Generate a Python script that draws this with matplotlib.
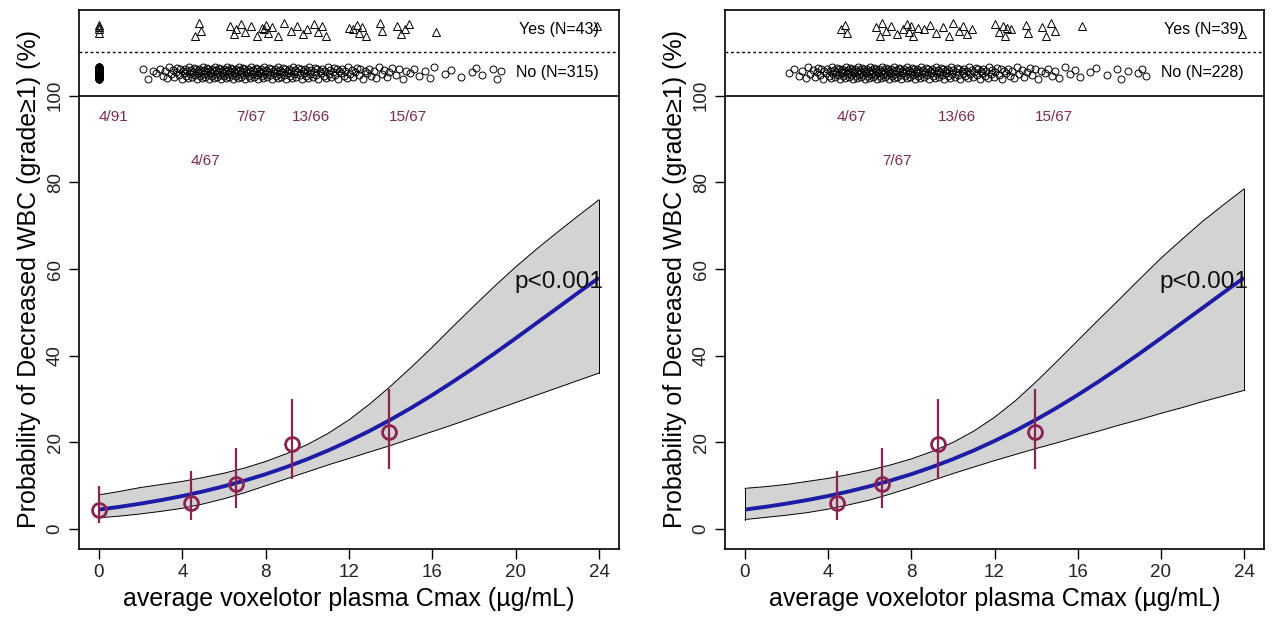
import numpy as np
import matplotlib
matplotlib.use('Agg')
import matplotlib.pyplot as plt

plt.rcParams['font.family'] = ['Liberation Sans', 'DejaVu Sans']

# ---------------- data ----------------
x_ticks = [0, 4, 8, 12, 16, 20, 24]
y_ticks = [0, 20, 40, 60, 80, 100]

curve_x = list(range(0, 25))
left_fit = [4.50, 5.14, 5.88, 6.70, 7.63, 8.69, 9.88, 11.20, 12.67, 14.32, 16.14, 18.14,
            20.33, 22.69, 25.26, 28.01, 30.94, 34.03, 37.24, 40.59, 44.03, 47.53, 51.02, 54.54, 58.01]
left_upper = [7.9, 8.7, 9.6, 10.3, 11.0, 11.9, 12.9, 14.1, 15.6, 17.4, 19.5, 22.1, 25.2, 28.9,
              33.0, 37.4, 42.0, 46.8, 51.5, 56.1, 60.5, 64.6, 68.5, 72.3, 76.0]
left_lower = [2.6, 3.0, 3.5, 4.1, 4.8, 5.8, 7.0, 8.4, 10.0, 11.6, 13.2, 14.8, 16.3, 17.8,
              19.3, 20.9, 22.5, 24.1, 25.8, 27.5, 29.2, 30.9, 32.6, 34.3, 36.0]

right_fit = [4.50, 5.14, 5.88, 6.70, 7.63, 8.69, 9.88, 11.20, 12.67, 14.32, 16.14, 18.14,
             20.33, 22.69, 25.26, 28.01, 30.94, 34.03, 37.24, 40.59, 44.03, 47.53, 51.02, 54.54, 58.01]
right_upper = [9.4, 9.8, 10.3, 11.0, 11.7, 12.6, 13.6, 14.8, 16.2, 17.9, 20.0, 22.6, 25.8, 29.6,
               34.0, 38.7, 43.5, 48.3, 53.0, 57.8, 62.5, 66.8, 71.0, 74.8, 78.5]
right_lower = [2.2, 2.7, 3.2, 3.8, 4.6, 5.6, 6.7, 8.1, 9.6, 11.2, 12.8, 14.3, 15.8, 17.2,
               18.6, 19.9, 21.3, 22.6, 24.0, 25.3, 26.7, 28.0, 29.4, 30.7, 32.0]

left_obs_x = [0.0, 4.41, 6.57, 9.25, 13.93]
left_obs_y = [4.4, 6.0, 10.4, 19.6, 22.3]
left_obs_lo = [1.4, 2.2, 4.9, 11.5, 13.8]
left_obs_hi = [10.0, 13.4, 18.8, 30.0, 32.4]
left_counts = ['4/91', '4/67', '7/67', '13/66', '15/67']
left_count_y = [95, 85, 95, 95, 95]

right_obs_x = [4.41, 6.6, 9.3, 13.95]
right_obs_y = [6.0, 10.4, 19.6, 22.3]
right_obs_lo = [2.2, 4.9, 11.5, 13.8]
right_obs_hi = [13.4, 18.8, 30.0, 32.4]
right_counts = ['4/67', '7/67', '13/66', '15/67']
right_count_y = [95, 85, 95, 95]

p_text = 'p<0.001'

# event strip data
placebo_yes_n = 4
placebo_no_n = 87
yes_drug_x = [4.6, 4.8, 4.9, 6.3, 6.5, 6.6, 6.8, 7.0, 7.3, 7.6, 7.8, 7.9, 8.0, 8.1, 8.3, 8.6,
              8.9, 9.2, 9.5, 9.8, 10.0, 10.3, 10.5, 10.7, 10.9, 12.0, 12.2, 12.4, 12.5, 12.6,
              12.8, 13.5, 13.6, 14.3, 14.5, 14.7, 14.9, 16.2, 23.9]
no_drug_bins = [2.25, 2.75, 3.25, 3.75, 4.25, 4.75, 5.25, 5.75, 6.25, 6.75, 7.25, 7.75, 8.25, 8.75,
                9.25, 9.75, 10.25, 10.75, 11.25, 11.75, 12.25, 12.75, 13.25, 13.75, 14.25, 14.75,
                15.25, 15.75]
no_drug_counts = [2, 3, 5, 7, 10, 12, 13, 13, 13, 13, 12, 12, 11, 11, 10, 10, 9, 8, 8, 7, 6, 5,
                  4, 4, 3, 3, 2, 2]
no_drug_outliers = [16.1, 16.6, 16.9, 17.4, 17.9, 18.1, 18.4, 18.9, 19.1, 19.3]

yes_label_left = 'Yes (N=43)'
no_label_left = 'No (N=315)'
yes_label_right = 'Yes (N=39)'
no_label_right = 'No (N=228)'

xlabel = 'average voxelotor plasma Cmax (\u00b5g/mL)'
ylabel = 'Probability of Decreased WBC (grade\u22651) (%)'

# ---------------- style ----------------
MAROON = '#8B2252'
COUNT_COL = '#7d2b4b'
BLUE = '#1c1ca6'
BAND = '#d3d3d3'
JIT = np.array([0.0, 1.1, -0.9, 0.5, -1.4, 1.5, -0.3, 0.8, -1.1, 0.2, 1.3, -0.6, 0.9, -1.5, 0.4])


def jitter(n, scale=1.0):
    return np.resize(JIT, n) * scale


def spread_bins(centres, counts, width=0.5):
    xs = []
    for c, n in zip(centres, counts):
        for i in range(n):
            xs.append(c - width / 2 + (i + 0.5) / n * width)
    return xs


no_drug_x = spread_bins(no_drug_bins, no_drug_counts) + no_drug_outliers

fig = plt.figure(figsize=(12.75, 6.33), dpi=100)
W, H = 1275, 633
positions = [(79, 10, 619, 549), (725, 10, 1264, 549)]

panels = [
    dict(fit=left_fit, up=left_upper, lo=left_lower, ox=left_obs_x, oy=left_obs_y,
         olo=left_obs_lo, ohi=left_obs_hi, counts=left_counts, cy=left_count_y,
         yes_x=[0.0] * placebo_yes_n + yes_drug_x, no_x=[0.0] * placebo_no_n + no_drug_x,
         yes_lab=yes_label_left, no_lab=no_label_left),
    dict(fit=right_fit, up=right_upper, lo=right_lower, ox=right_obs_x, oy=right_obs_y,
         olo=right_obs_lo, ohi=right_obs_hi, counts=right_counts, cy=right_count_y,
         yes_x=yes_drug_x, no_x=no_drug_x,
         yes_lab=yes_label_right, no_lab=no_label_right),
]

for (l, t, r, b), P in zip(positions, panels):
    ax = fig.add_axes([l / W, 1 - b / H, (r - l) / W, (b - t) / H])
    ax.set_xlim(-0.96, 24.96)
    ax.set_ylim(-4.6, 119.8)

    # confidence band
    ax.fill_between(curve_x, P['lo'], P['up'], facecolor=BAND, edgecolor='none', zorder=1)
    ax.plot(curve_x, P['up'], color='black', lw=0.7, zorder=2)
    ax.plot(curve_x, P['lo'], color='black', lw=0.7, zorder=2)
    ax.plot([curve_x[0], curve_x[0]], [P['lo'][0], P['up'][0]], color='black', lw=0.7, zorder=2)
    ax.plot([curve_x[-1], curve_x[-1]], [P['lo'][-1], P['up'][-1]], color='black', lw=0.7, zorder=2)

    # fitted curve
    ax.plot(curve_x, P['fit'], color=BLUE, lw=2.8, zorder=3, solid_capstyle='butt')

    # observed proportions
    ax.vlines(P['ox'], P['olo'], P['ohi'], color=MAROON, lw=1.6, zorder=4)
    ax.plot(P['ox'], P['oy'], 'o', ms=10, mfc='none', mec=MAROON, mew=2.0, zorder=5)
    for x, y, s in zip(P['ox'], P['cy'], P['counts']):
        ax.text(x, y, s, color=COUNT_COL, fontsize=11, ha='left', va='center')

    ax.text(19.95, 57.0, p_text, fontsize=17.5, ha='left', va='center', color='#111111', zorder=6)

    # event strip
    ax.axhline(100, color='black', lw=1.2)
    ax.axhline(110.2, color='black', lw=1.0, ls=(0, (2, 2)))
    ax.plot(P['yes_x'], 115.3 + jitter(len(P['yes_x']), 1.0), '^', ms=6, mfc='none',
            mec='black', mew=0.7, zorder=3)
    ax.plot(P['no_x'], 105.3 + jitter(len(P['no_x']), 0.9), 'o', ms=5, mfc='none',
            mec='black', mew=0.7, zorder=3)
    ax.text(24.0, 115.3, P['yes_lab'], fontsize=11.5, ha='right', va='center')
    ax.text(24.0, 105.3, P['no_lab'], fontsize=11.5, ha='right', va='center')

    # axes styling
    ax.set_xticks(x_ticks)
    ax.set_xticklabels([str(v) for v in x_ticks])
    ax.set_yticks(y_ticks)
    ax.set_yticklabels([str(v) for v in y_ticks], rotation=90, va='center')
    ax.tick_params(direction='out', length=7, width=1, labelsize=13.5, colors='black',
                   labelcolor='#222222', pad=4)
    for s in ax.spines.values():
        s.set_linewidth(1.2)
    ax.set_xlabel(xlabel, fontsize=18, labelpad=4)
    ax.set_ylabel(ylabel, fontsize=18, labelpad=4)

fig.savefig('out.png', dpi=100, facecolor='white')
